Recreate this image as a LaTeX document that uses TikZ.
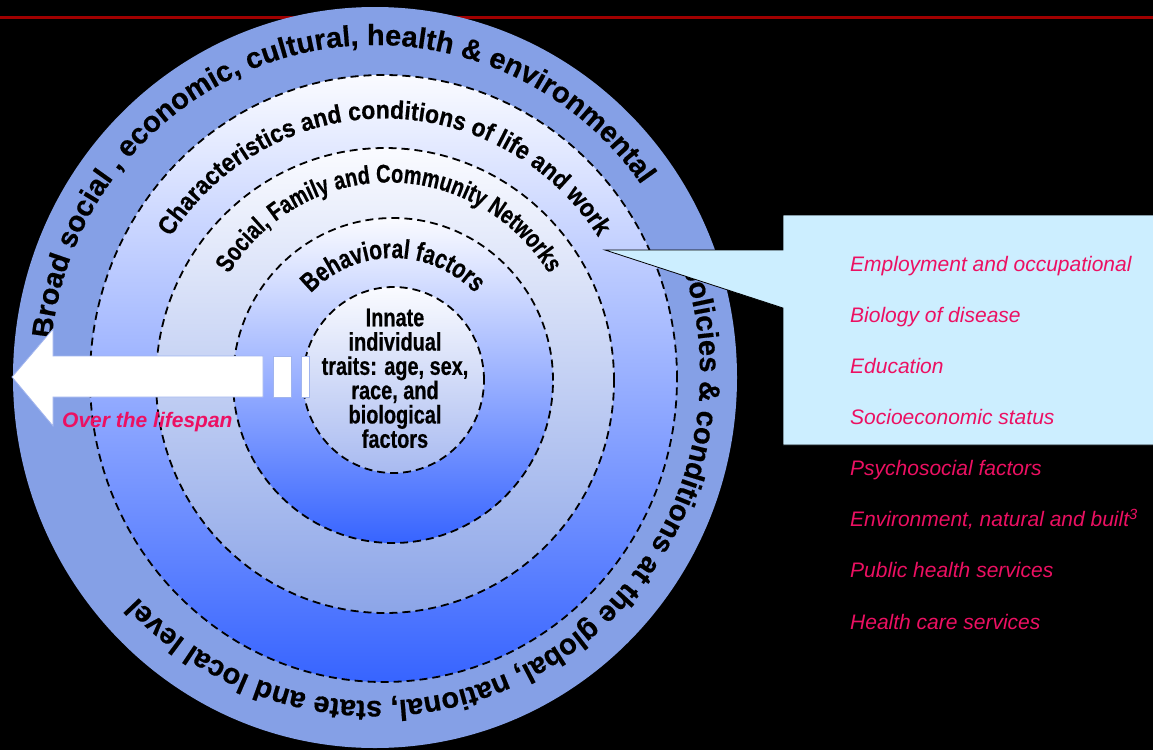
\documentclass[tikz,border=0pt]{standalone}
\usepackage{fontspec}
\setmainfont{Liberation Sans}
\newfontfamily\outerF{Liberation Sans}[BoldFeatures={FakeBold=0.5}]
\newfontfamily\nineF{Liberation Sans}[FakeStretch=0.9, BoldFeatures={FakeBold=0.5}]
\newfontfamily\narF{Liberation Sans}[FakeStretch=0.78, BoldFeatures={FakeBold=0.5}]
\usetikzlibrary{decorations.text}
\definecolor{ringOuter}{RGB}{133,160,230}
\definecolor{topW}{RGB}{250,251,255}
\definecolor{botA}{RGB}{55,100,255}
\definecolor{botB}{RGB}{140,165,232}
\definecolor{botC}{RGB}{55,100,255}
\definecolor{botD}{RGB}{168,186,240}
\definecolor{calloutC}{RGB}{204,238,255}
\definecolor{pinkC}{RGB}{236,16,98}
\definecolor{redC}{RGB}{160,0,0}
\definecolor{arrowEdge}{RGB}{160,180,238}
\newcommand\fontOuterRing{\outerF\bfseries\fontsize{29}{29}\selectfont}
\newcommand\fontRingTwo{\nineF\bfseries\fontsize{25.5}{25.5}\selectfont}
\newcommand\fontRingThree{\narF\bfseries\fontsize{25.6}{25.6}\selectfont}
\newcommand\fontRingFour{\narF\bfseries\fontsize{27}{27}\selectfont}
\tikzset{
  dashring/.style={draw=black, line width=1.8pt, dash pattern=on 8pt off 5pt},
  pinkitem/.style={anchor=base west, inner sep=0pt, text=pinkC, font=\itshape\fontsize{21}{21}\selectfont},
  ringtext/.style={decorate, decoration={text along path, text align=center, text={#1}}}
}
\begin{document}
\begin{tikzpicture}[x=1pt,y=1pt]
\useasboundingbox (0,0) rectangle (1153,-750);
\fill[black] (0,0) rectangle (1153,-750);
\draw[redC, line width=3pt] (0,-17) -- (1153,-17);
% rings
\fill[ringOuter] (375,-377.5) ellipse [x radius=362pt, y radius=370.5pt];
\shade[top color=topW, bottom color=botA] (383.5,-378.5) ellipse [x radius=293.5pt, y radius=303.5pt];
\draw[dashring] (383.5,-378.5) ellipse [x radius=293.5pt, y radius=303.5pt];
\shade[top color=topW, bottom color=botB] (385,-380.5) ellipse [x radius=229pt, y radius=232.5pt];
\draw[dashring] (385,-380.5) ellipse [x radius=229pt, y radius=232.5pt];
\shade[top color=topW, bottom color=botC] (393,-380.5) ellipse [x radius=160pt, y radius=162.5pt];
\draw[dashring] (393,-380.5) ellipse [x radius=160pt, y radius=162.5pt];
\shade[top color=topW, bottom color=botD] (393.5,-380) ellipse [x radius=90.5pt, y radius=93pt];
\draw[dashring] (393.5,-380) ellipse [x radius=90.5pt, y radius=93pt];
% curved texts
\path[ringtext={|\fontOuterRing|Broad social , economic, cultural, health {\&} environmental}]
  (375,-373) ++(184.5:325pt and 328pt) arc[start angle=184.5, end angle=24.5, x radius=325pt, y radius=328pt];
\path[ringtext={|\fontOuterRing|policies {\&} conditions at the global, national, state and local level}]
  (375,-373) ++(31:325pt and 328pt) arc[start angle=31, end angle=-149, x radius=325pt, y radius=328pt];
\path[ringtext={|\fontRingTwo|Characteristics and conditions of life and work}]
  (384.5,-379.5) ++(170:255pt and 261pt) arc[start angle=170, end angle=10, x radius=255pt, y radius=261pt];
\path[ringtext={|\fontRingThree|Social, Family and Community Networks}]
  (389,-380.5) ++(170:190pt and 198pt) arc[start angle=170, end angle=10, x radius=190pt, y radius=198pt];
\path[ringtext={|\fontRingFour|Behavioral factors}]
  (393,-380.5) ++(175:117pt and 122.5pt) arc[start angle=175, end angle=5, x radius=117pt, y radius=122.5pt];
% centre text
\node[align=center, anchor=north, inner sep=0pt, font=\narF\bfseries\fontsize{25.5}{24.3}\selectfont] (innate) at (395,-308.5)
  {Innate\\individual\\traits: age, sex,\\race, and\\biological\\factors};
% arrow
\filldraw[fill=white, draw=arrowEdge, line width=0.8pt] (12,-377) -- (53,-329) -- (53,-356) -- (263,-356) -- (263,-397) -- (53,-397) -- (53,-426) -- cycle;
\filldraw[fill=white, draw=arrowEdge, line width=0.8pt] (273,-356) rectangle (291,-397);
\filldraw[fill=white, draw=arrowEdge, line width=0.8pt] (301,-356) rectangle (309,-397);
\node[anchor=base west, inner sep=0pt, text=pinkC, font=\bfseries\itshape\fontsize{21}{21}\selectfont] (life) at (62,-427) {Over the lifespan};
% callout
\filldraw[fill=calloutC, draw=black, line width=0.8pt] (605,-250) -- (783,-250) -- (783,-215) -- (1160,-215) -- (1160,-445) -- (783,-445) -- (783,-308) -- cycle;
\node[pinkitem] (l1) at (850,-271) {Employment and occupational};
\node[pinkitem] (l2) at (850,-322.1) {Biology of disease};
\node[pinkitem] (l3) at (850,-373.3) {Education};
\node[pinkitem] (l4) at (850,-424.4) {Socioeconomic status};
\node[pinkitem] (l5) at (850,-475.6) {Psychosocial factors};
\node[pinkitem] (l6) at (850,-526.7) {Environment, natural and built\textsuperscript{3}};
\node[pinkitem] (l7) at (850,-577.8) {Public health services};
\node[pinkitem] (l8) at (850,-629) {Health care services};
\end{tikzpicture}
\end{document}
